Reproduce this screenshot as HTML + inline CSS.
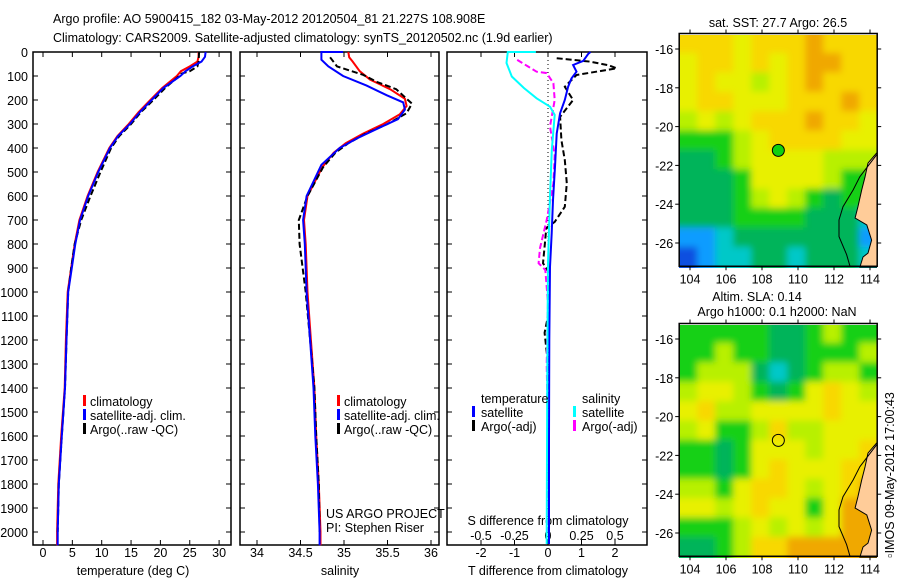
<!DOCTYPE html>
<html><head><meta charset="utf-8"><style>
body{margin:0;background:#fff;}
svg{display:block;font-family:"Liberation Sans",sans-serif;font-size:12.5px;}
</style></head><body>
<svg id="fig" width="900" height="580" xmlns="http://www.w3.org/2000/svg">
<defs>
<filter id="soft" x="-5%" y="-5%" width="110%" height="110%"><feGaussianBlur stdDeviation="3.5"/></filter>
<clipPath id="clip1"><rect x="679" y="35" width="198" height="233"/></clipPath>
<clipPath id="clip2"><rect x="679" y="325" width="198" height="233"/></clipPath>
</defs>
<g>
<text x="53" y="23">Argo profile: AO 5900415_182 03-May-2012 20120504_81 21.227S 108.908E</text>
<text x="53" y="42">Climatology: CARS2009. Satellite-adjusted climatology: synTS_20120502.nc (1.9d earlier)</text>
</g>
<g id="p1"></g>
<g id="p2"></g>
<g id="p3"></g>
<g id="m1"></g>
<g id="m2"></g>
<text x="0" y="0" transform="translate(894,475) rotate(-90)" text-anchor="middle">▫IMOS 09-May-2012 17:00:43</text>
</svg>
<script>
// ---------- data ----------
const depthTicks=[0,100,200,300,400,500,600,700,800,900,1000,1100,1200,1300,1400,1500,1600,1700,1800,1900,2000];
const tempTicks=[0,5,10,15,20,25,30];
const salTicks=[34,34.5,35,35.5,36];
const tdTicks=[-2,-1,0,1,2];
const sdTicks=[-0.5,-0.25,0,0.25,0.5];
const sdTickLabels=["-0.5","-0.25","0","0.25","0.5"];

const tSatD=[0,20,40,60,80,100,150,200,250,300,350,400,500,600,700,800,900,1000,1200,1400,1600,1800,2000,2055];
const tSatV=[27.7,27.6,27.0,25.5,24.3,23.4,20.5,18.5,16.5,14.8,12.8,11.4,9.4,7.7,6.3,5.5,4.9,4.3,4.0,3.75,3.2,2.7,2.5,2.5];
const tClimD=[0,20,40,60,80,100,150,200,250,300,350,400,500,600,700,800,900,1000,1200,1400,1600,1800,2000,2055];
const tClimV=[26.5,26.5,26.3,25.0,23.5,22.8,20.3,18.3,16.3,14.6,12.7,11.3,9.3,7.6,6.2,5.4,4.8,4.2,3.9,3.7,3.1,2.6,2.4,2.4];
const tArgoD=[0,40,60,80,90,100,150,200,250,300,350,400,500,600,700,800,900,1000,1200,1400,1600,1800,2000];
const tArgoV=[26.6,26.5,26.3,25.0,23.6,23.2,20.8,18.8,16.7,15.0,13.0,11.6,9.8,8.1,6.5,5.4,4.8,4.3,4.0,3.75,3.2,2.7,2.5];

const sSatD=[0,0,32,60,100,140,180,210,240,280,320,360,400,470,600,700,800,1000,1200,1400,1600,1800,2000,2055];
const sSatV=[34.99,34.74,34.74,34.82,34.99,35.26,35.49,35.68,35.70,35.62,35.38,35.15,34.95,34.74,34.57,34.53,34.55,34.57,34.61,34.65,34.67,34.70,34.72,34.72];
const sClimD=[0,22,40,80,115,155,195,225,260,300,340,380,420,480,600,700,800,1000,1200,1400,1600,1800,2000,2055];
const sClimV=[35.05,35.06,35.10,35.18,35.30,35.53,35.70,35.72,35.64,35.45,35.22,35.02,34.88,34.75,34.58,34.54,34.56,34.58,34.62,34.66,34.68,34.71,34.73,34.73];
const sArgoD=[22,60,80,95,125,155,215,255,300,340,380,420,480,600,700,800,1000,1200,1400,1600,1800,2000];
const sArgoV=[34.84,34.92,35.09,35.22,35.38,35.60,35.78,35.72,35.50,35.25,35.05,34.90,34.76,34.58,34.48,34.49,34.56,34.61,34.66,34.68,34.71,34.72];

const dTSatD=[0,8,37,54,82,110,145,200,255,340,478,617,755,895,1200,1600,2050];
const dTSatV=[1.27,1.2,1.05,0.75,0.85,0.7,0.6,0.5,0.36,0.26,0.21,0.15,0.11,0.06,0.04,0.03,0.03];
const dSSatD=[0,0,46,102,150,193,228,262,408,600,880,1300,2050];
const dSSatV=[-0.09,-0.3,-0.31,-0.27,-0.18,-0.085,0.015,0.05,0.028,0.015,0.0,-0.005,-0.01];
const dTArgoD=[26,40,55,68,96,145,200,270,367,450,547,645,708,733,811,880,912,1100,1170,1300,1600,2000];
const dTArgoV=[0.26,1.25,1.8,2.05,0.85,0.5,0.75,0.36,0.4,0.5,0.56,0.5,0.2,-0.05,-0.1,-0.15,0.0,0.0,-0.1,0.0,0.0,0.0];
const dSArgoD=[33,60,82,88,130,200,310,430,547,700,817,880,908,1045,1300,1600,2000];
const dSArgoV=[-0.23,-0.15,-0.085,-0.01,0.04,0.05,0.015,0.05,0.04,-0.01,-0.06,-0.07,-0.02,0.0,-0.01,0.0,0.0];

// maps: 11 cols (lon 103.4..114.4), 12 rows (lat -15.2..-27.2); colour class index
const sstGrid=[
[7,7,7,6,7,7,7,8,7,7,7],
[6,7,7,6,7,6,7,8,8,7,7],
[6,7,6,6,5,6,7,8,7,7,7],
[6,7,7,6,6,6,7,7,7,8,7],
[5,6,5,6,7,7,7,8,7,7,6],
[4,4,4,5,6,7,7,7,7,6,6],
[3,3,4,5,6,6,6,6,5,5,5],
[3,3,3,4,6,6,6,6,5,4,4],
[3,3,3,4,5,6,5,4,3,4,4],
[3,3,3,4,4,4,4,3,3,3,2],
[1,1,2,3,3,3,3,3,3,3,1],
[0,1,2,2,3,3,2,3,3,3,2]];
const slaGrid=[
[4,4,4,4,4,3,3,4,5,4,4],
[4,4,5,4,4,3,3,4,4,4,5],
[4,5,5,5,3,2,3,4,5,5,4],
[5,6,6,5,4,3,4,6,7,6,5],
[6,7,5,5,6,6,6,6,7,6,6],
[5,6,4,4,5,7,5,5,6,6,6],
[4,4,3,4,6,6,6,5,6,6,7],
[4,4,3,4,6,7,6,6,6,7,7],
[5,5,4,6,7,7,6,5,6,7,8],
[6,6,5,6,7,6,6,4,6,8,8],
[4,4,4,5,6,5,6,5,6,8,8],
[3,3,4,5,7,7,8,8,8,8,8]];
const palette=["#0a50e0","#0a9cff","#00c8c8","#00b45a","#18d018","#b8f000","#e8f000","#f8d800","#f0a800"];
const landLon=[114.37,113.89,113.72,113.54,113.33,113.17,113.82,114.09,113.89,113.61,113.44,114.4,114.4];
const landLat=[-21.36,-21.88,-22.6,-23.27,-24.14,-24.71,-25.07,-25.85,-26.52,-26.72,-27.24,-27.24,-21.36];
const shelfLon=[114.37,113.44,113.06,112.5,112.28,112.28,112.7,112.89];
const shelfLat=[-21.45,-22.58,-23.27,-24.13,-24.81,-25.67,-26.6,-27.2];
const lonTicks=[104,106,108,110,112,114];
const latTicks=[-16,-18,-20,-22,-24,-26];
const floatLon=108.908, floatLat=-21.227;

// ---------- helpers ----------
const NS="http://www.w3.org/2000/svg";
function mk(tag,attrs,parent){const e=document.createElementNS(NS,tag);for(const k in attrs)e.setAttribute(k,attrs[k]);parent.appendChild(e);return e;}
const yD=d=>52+0.24*d;
function line(parent,xs,ds,xf,color,dash,name,w){
  const pts=xs.map((v,i)=>xf(v).toFixed(1)+","+yD(ds[i]).toFixed(1)).join(" ");
  const p=mk("polyline",{points:pts,fill:"none",stroke:color,"stroke-width":w||2,"stroke-dasharray":dash||"none"},parent);
  
  
}
function frame(parent,x0,x1,name){
  const r=mk("rect",{x:x0,y:52,width:x1-x0,height:493,fill:"none",stroke:"#000","stroke-width":1.5},parent);
  
  
  depthTicks.forEach(d=>{mk("line",{x1:x0,x2:x0+5,y1:yD(d),y2:yD(d),stroke:"#000"},parent);mk("line",{x1:x1,x2:x1-5,y1:yD(d),y2:yD(d),stroke:"#000"},parent);});
}
function xticks(parent,ticks,labels,xf,y,ty){
  ticks.forEach((t,i)=>{
    mk("line",{x1:xf(t),x2:xf(t),y1:545,y2:540,stroke:"#000"},parent);
    mk("line",{x1:xf(t),x2:xf(t),y1:52,y2:57,stroke:"#000"},parent);
    const tx=mk("text",{x:xf(t),y:ty,"text-anchor":"middle"},parent);tx.textContent=labels[i];
    
    
  });
}
function txt(parent,x,y,s,name,anchor){const t=mk("text",{x:x,y:y,"text-anchor":anchor||"start"},parent);t.textContent=s;
  
  
  return t;}
function legMark(parent,x,y,color,name){const r=mk("rect",{x:x,y:y-11,width:3,height:11,fill:color},parent);
  
  }

// ---------- panel 1 ----------
const p1=document.getElementById("p1");
const xT=t=>43+5.87*t;
frame(p1,33,231,"temperature-axes-frame");
depthTicks.forEach(d=>{const t=txt(p1,28,yD(d)+5,String(d),"depth-tick-label","end");});
xticks(p1,tempTicks,tempTicks.map(String),xT,545,557);
txt(p1,133,575,"temperature (deg C)","x-axis-title","middle");
line(p1,tClimV,tClimD,xT,"#f00",null,"temp-climatology-line");
line(p1,tArgoV,tArgoD,xT,"#000","6,3","temp-argo-line");
line(p1,tSatV,tSatD,xT,"#00f",null,"temp-satellite-line");
legMark(p1,83,406,"#f00","legend-climatology-mark");txt(p1,90,406,"climatology","legend-climatology");
legMark(p1,83,420,"#00f","legend-satellite-mark");txt(p1,90,420,"satellite-adj. clim.","legend-satellite");
legMark(p1,83,434,"#000","legend-argo-mark");txt(p1,90,434,"Argo(..raw -QC)","legend-argo");

// ---------- panel 2 ----------
const p2=document.getElementById("p2");
const xS=s=>257+87*(s-34);
frame(p2,240,439,"salinity-axes-frame");
xticks(p2,salTicks,["34","34.5","35","35.5","36"],xS,545,557);
txt(p2,340,575,"salinity","x-axis-title","middle");
line(p2,sClimV,sClimD,xS,"#f00",null,"sal-climatology-line");
line(p2,sArgoV,sArgoD,xS,"#000","6,3","sal-argo-line");
line(p2,sSatV,sSatD,xS,"#00f",null,"sal-satellite-line");
legMark(p2,337,406,"#f00","legend-climatology-mark");txt(p2,344,406,"climatology","legend-climatology");
legMark(p2,337,420,"#00f","legend-satellite-mark");txt(p2,344,420,"satellite-adj. clim.","legend-satellite");
legMark(p2,337,434,"#000","legend-argo-mark");txt(p2,344,434,"Argo(..raw -QC)","legend-argo");
txt(p2,326,518,"US ARGO PROJECT","project-label");
txt(p2,326,532,"PI: Stephen Riser","pi-label");

// ---------- panel 3 ----------
const p3=document.getElementById("p3");
const xDT=t=>548+33.5*t;
const xDS=s=>548+134*s;
frame(p3,447,647,"difference-axes-frame");
mk("line",{x1:548,x2:548,y1:52,y2:545,stroke:"#000","stroke-dasharray":"1,3"},p3);
tdTicks.forEach(t=>{mk("line",{x1:xDT(t),x2:xDT(t),y1:545,y2:540,stroke:"#000"},p3);mk("line",{x1:xDT(t),x2:xDT(t),y1:52,y2:57,stroke:"#000"},p3);txt(p3,xDT(t),557,String(t),"t-diff-tick-label","middle");});
sdTicks.forEach((s,i)=>txt(p3,xDS(s),540,sdTickLabels[i],"s-diff-tick-label","middle"));
txt(p3,548,525,"S difference from climatology","s-diff-axis-title","middle");
txt(p3,548,575,"T difference from climatology","t-diff-axis-title","middle");
line(p3,dTArgoV,dTArgoD,xDT,"#000","6,3","tdiff-argo-line");
line(p3,dSArgoV,dSArgoD,xDS,"#f0f","6,3","sdiff-argo-line");
line(p3,dTSatV,dTSatD,xDT,"#00f",null,"tdiff-satellite-line");
line(p3,dSSatV,dSSatD,xDS,"#0ff",null,"sdiff-satellite-line");
txt(p3,481,403,"temperature","legend-temperature-heading");
txt(p3,582,403,"salinity","legend-salinity-heading");
legMark(p3,472,417,"#00f","legend-tsat-mark");txt(p3,481,417,"satellite","legend-t-satellite");
legMark(p3,472,431,"#000","legend-targo-mark");txt(p3,481,431,"Argo(-adj)","legend-t-argo");
legMark(p3,573,417,"#0ff","legend-ssat-mark");txt(p3,582,417,"satellite","legend-s-satellite");
legMark(p3,573,431,"#f0f","legend-sargo-mark");txt(p3,582,431,"Argo(-adj)","legend-s-argo");

// ---------- maps ----------
function drawMap(g,grid,top,titles,fillMarker,clipId){
  const lx=lon=>690+18*(lon-104);
  const ly=lat=>top+14-19.4*(lat+16);
  const x0=lx(103.4),x1=lx(114.4),y0=ly(-15.2),y1=ly(-27.2);
  const clipG=mk("g",{"clip-path":"url(#"+clipId+")"},g);
  const cells=mk("g",{filter:"url(#soft)"},clipG);
  
  
  grid.forEach((row,r)=>row.forEach((v,c)=>{
    let xa=lx(103.4+c),xb=lx(104.4+c),ya=ly(-15.2-r),yb=ly(-16.2-r);
    if(c===0)xa-=8; if(c===row.length-1)xb+=8; if(r===0)ya-=8; if(r===grid.length-1)yb+=8;
    const cell=mk("rect",{x:xa,y:ya,width:xb-xa+0.5,height:yb-ya+0.5,fill:palette[v]},cells);
    
    
  }));
  const land=mk("polygon",{points:landLon.map((l,i)=>lx(l).toFixed(1)+","+ly(landLat[i]).toFixed(1)).join(" "),fill:"#ffcc99",stroke:"#000","stroke-width":1},clipG);
  
  
  const shelf=mk("polyline",{points:shelfLon.map((l,i)=>lx(l).toFixed(1)+","+ly(shelfLat[i]).toFixed(1)).join(" "),fill:"none",stroke:"#000","stroke-width":1},clipG);
  
  
  const fr=mk("rect",{x:x0,y:y0,width:x1-x0,height:y1-y0,fill:"none",stroke:"#000","stroke-width":1.5},g);
  
  
  lonTicks.forEach(l=>{mk("line",{x1:lx(l),x2:lx(l),y1:y0,y2:y0-4,stroke:"#000"},g);mk("line",{x1:lx(l),x2:lx(l),y1:y1,y2:y1+4,stroke:"#000"},g);txt(g,lx(l),y1+17,String(l),"lon-tick-label","middle");});
  latTicks.forEach(l=>{mk("line",{x1:x0,x2:x0-4,y1:ly(l),y2:ly(l),stroke:"#000"},g);mk("line",{x1:x1,x2:x1+4,y1:ly(l),y2:ly(l),stroke:"#000"},g);txt(g,x0-6,ly(l)+5,String(l),"lat-tick-label","end");});
  const m=mk("circle",{cx:lx(floatLon),cy:ly(floatLat),r:6,fill:fillMarker?"#10d010":"none",stroke:"#000","stroke-width":1},g);
  
  
  titles.forEach(t=>txt(g,t[0],t[1],t[2],"map-title","middle"));
}
drawMap(document.getElementById("m1"),sstGrid,35,[[778,27,"sat. SST: 27.7 Argo: 26.5"]],true,"clip1");
drawMap(document.getElementById("m2"),slaGrid,325,[[757,301,"Altim. SLA: 0.14"],[777,316,"Argo h1000: 0.1 h2000: NaN"]],false,"clip2");
</script>
</body></html>
